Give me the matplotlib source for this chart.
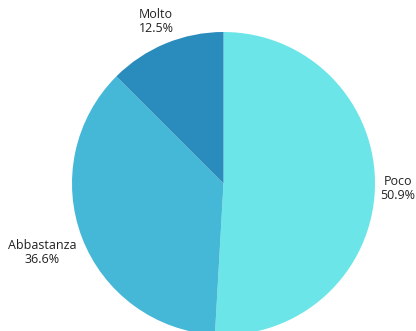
import numpy as np
import matplotlib.pyplot as plt

labels = ["Poco", "Abbastanza", "Molto"]
values = [50.9, 36.6, 12.5]
colors = ["#6ce5e8", "#45b8d8", "#2a8bbd"]
label_dist = [1.15, 1.28, 1.16]

plt.rcParams["font.family"] = ["Open Sans", "DejaVu Sans"]

fig = plt.figure(figsize=(4.16, 3.31), dpi=100)
ax = fig.add_axes([0, 0, 1, 1])

cx, cy, r = 223.5, 147.5, 151.5
wedges, _ = ax.pie(values, colors=colors, startangle=90, counterclock=False,
                   center=(cx, cy), radius=r, frame=True,
                   wedgeprops=dict(linewidth=0))
ax.set_xlim(0, 416)
ax.set_ylim(0, 331)
ax.axis("off")

for w, lab, v, d in zip(wedges, labels, values, label_dist):
    ang = np.deg2rad((w.theta1 + w.theta2) / 2)
    x = cx + r * d * np.cos(ang)
    y = cy + r * d * np.sin(ang)
    ax.text(x, y, f"{lab}\n{v:.1f}%", ha="center", va="center",
            multialignment="center", fontsize=9, color="#222222",
            linespacing=1.1)

fig.savefig("out.png", dpi=100)
